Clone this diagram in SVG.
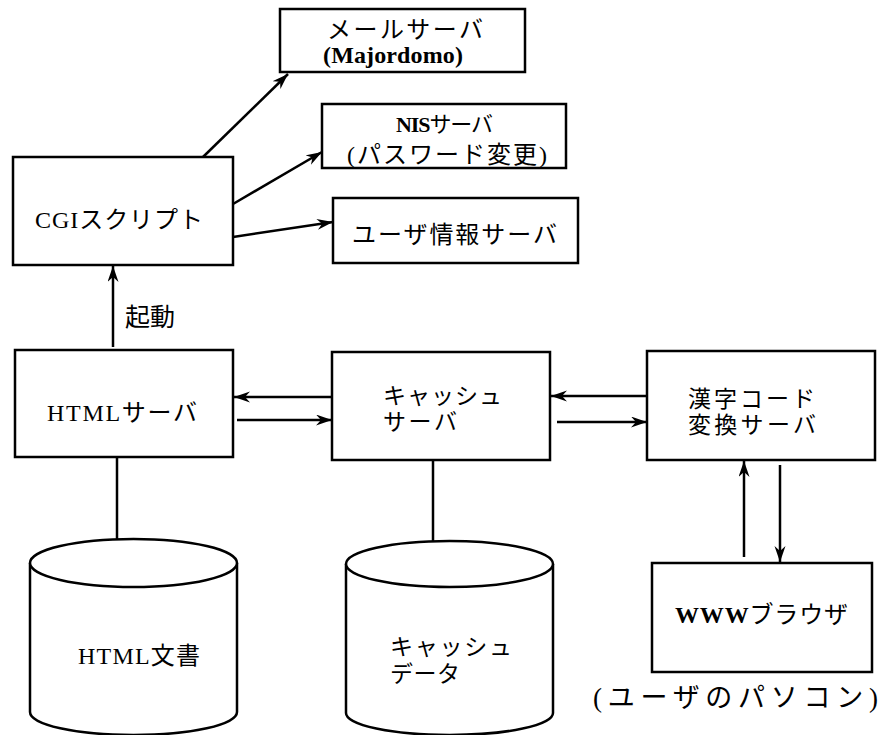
<svg xmlns="http://www.w3.org/2000/svg" width="882" height="735" viewBox="0 0 882 735">
<style>
.box{fill:#fff;stroke:#000;stroke-width:2.5}
.ln{fill:none;stroke:#000;stroke-width:2.5}
.t{font-family:"Liberation Serif","Noto Sans CJK JP",serif;font-size:24px;fill:#000}
.b{font-weight:bold}
</style>
<defs>
<marker id="ah" markerUnits="userSpaceOnUse" markerWidth="18" markerHeight="12" refX="16" refY="5.5" orient="auto">
<path d="M0,0 L16,5.5 L0,11 L5,5.5 Z" fill="#000"/>
</marker>
</defs>
<rect width="882" height="735" fill="#fff"/>
<g id="connectors">
<line class="ln" x1="203" y1="157" x2="288" y2="74" marker-end="url(#ah)"/>
<line class="ln" x1="233" y1="204" x2="322" y2="152" marker-end="url(#ah)"/>
<line class="ln" x1="233" y1="237" x2="333" y2="222" marker-end="url(#ah)"/>
<line class="ln" x1="113" y1="347" x2="113" y2="266" marker-end="url(#ah)"/>
<line class="ln" x1="332" y1="397" x2="234" y2="397" marker-end="url(#ah)"/>
<line class="ln" x1="237" y1="420" x2="332" y2="420" marker-end="url(#ah)"/>
<line class="ln" x1="647" y1="396" x2="551" y2="396" marker-end="url(#ah)"/>
<line class="ln" x1="557" y1="422" x2="647" y2="422" marker-end="url(#ah)"/>
<line class="ln" x1="744" y1="557" x2="744" y2="461" marker-end="url(#ah)"/>
<line class="ln" x1="780" y1="465" x2="780" y2="562" marker-end="url(#ah)"/>
<line class="ln" x1="117" y1="457" x2="117" y2="539"/>
<line class="ln" x1="433" y1="460" x2="433" y2="541"/>
</g>
<text class="t" x="125" y="326" style="font-size:25px" textLength="50" lengthAdjust="spacing">起動</text>
<g id="mail">
<rect class="box" x="280" y="9" width="245" height="63"/>
<text class="t" x="327" y="38" textLength="156" lengthAdjust="spacing">メールサーバ</text>
<text class="t b" x="323" y="63" textLength="140" lengthAdjust="spacing">(Majordomo)</text>
</g>
<g id="nis">
<rect class="box" x="322" y="104" width="244" height="64"/>
<text class="t" x="396" y="132" style="font-size:22px" textLength="97" lengthAdjust="spacing"><tspan class="b">NIS</tspan>サーバ</text>
<text class="t" x="347" y="163" textLength="200" lengthAdjust="spacing">(パスワード変更)</text>
</g>
<g id="userinfo">
<rect class="box" x="333" y="198" width="245" height="65"/>
<text class="t" x="352" y="243" textLength="205" lengthAdjust="spacing">ユーザ情報サーバ</text>
</g>
<g id="cgi">
<rect class="box" x="13" y="157" width="220" height="108"/>
<text class="t" x="35" y="228" textLength="168" lengthAdjust="spacing">CGIスクリプト</text>
</g>
<g id="htmlserver">
<rect class="box" x="15" y="350" width="218" height="107"/>
<text class="t" x="47" y="421" textLength="150" lengthAdjust="spacing">HTMLサーバ</text>
</g>
<g id="cacheserver">
<rect class="box" x="332" y="352" width="218" height="108"/>
<text class="t" style="font-size:23px"><tspan x="383" y="404" textLength="119" lengthAdjust="spacing">キャッシュ</tspan><tspan x="383" y="430" textLength="74" lengthAdjust="spacing">サーバ</tspan></text>
</g>
<g id="kanji">
<rect class="box" x="647" y="351" width="228" height="109"/>
<text class="t" style="font-size:23px"><tspan x="688" y="407" textLength="127" lengthAdjust="spacing">漢字コード</tspan><tspan x="688" y="433" textLength="128" lengthAdjust="spacing">変換サーバ</tspan></text>
</g>
<g id="browser">
<rect class="box" x="652" y="563" width="220" height="109"/>
<text class="t" x="675" y="623" textLength="173" lengthAdjust="spacing"><tspan class="b">WWW</tspan>ブラウザ</text>
<text class="t" x="593" y="707" style="font-size:27px" textLength="285" lengthAdjust="spacing">(ユーザのパソコン)</text>
</g>
<g id="htmldoc">
<path class="box" d="M30,563 L30,712 A103.5,23 0 0 0 237,712 L237,563"/>
<ellipse class="box" cx="133.5" cy="563" rx="103.5" ry="24"/>
<text class="t" x="78" y="664" textLength="122" lengthAdjust="spacing">HTML文書</text>
</g>
<g id="cachedata">
<path class="box" d="M346,564 L346,713 A103.5,22 0 0 0 553,713 L553,564"/>
<ellipse class="box" cx="449.5" cy="564" rx="103.5" ry="23"/>
<text class="t" style="font-size:23px"><tspan x="390" y="655" textLength="122" lengthAdjust="spacing">キャッシュ</tspan><tspan x="390" y="682" textLength="70" lengthAdjust="spacing">データ</tspan></text>
</g>
</svg>
